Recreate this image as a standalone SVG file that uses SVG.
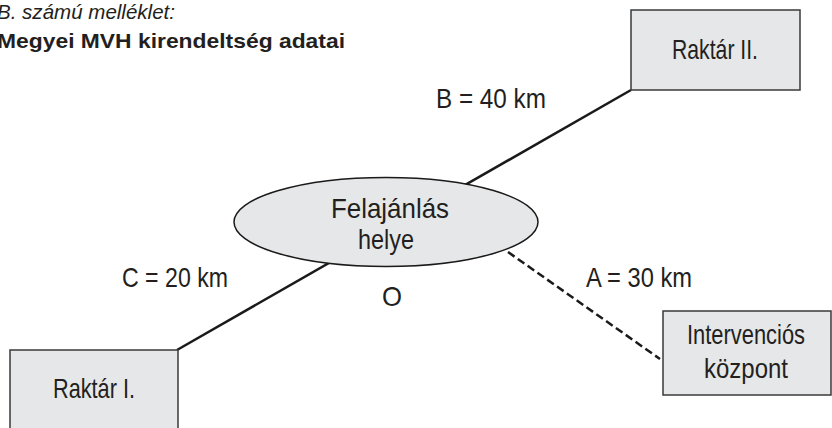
<svg xmlns="http://www.w3.org/2000/svg" width="832" height="428" viewBox="0 0 832 428">
<style>
.box{fill:#e6e7e8;stroke:#3a3a3a;stroke-width:1.5}
.lab{font-family:"Liberation Sans","DejaVu Sans",sans-serif;font-size:28px;fill:#231f20}
.ln{stroke:#1a1a1a;stroke-width:2.5;fill:none}
.dash{stroke:#1a1a1a;stroke-width:2.5;fill:none;stroke-dasharray:8 4}
</style>
<rect width="832" height="428" fill="#ffffff"/>
<g id="title">
<text x="-3" y="19" font-family="Liberation Sans, sans-serif" font-style="italic" font-size="21" fill="#231f20" textLength="178" lengthAdjust="spacingAndGlyphs">B. számú melléklet:</text>
<text x="-3" y="48" font-family="Liberation Sans, sans-serif" font-weight="bold" font-size="21" fill="#231f20" textLength="348" lengthAdjust="spacingAndGlyphs">Megyei MVH kirendeltség adatai</text>
</g>
<g id="connectors">
<line class="ln" x1="631" y1="90" x2="177" y2="350"/>
<line class="dash" x1="508" y1="252" x2="660" y2="359"/>
</g>
<g id="raktar2">
<rect class="box" x="631" y="10" width="169" height="80"/>
<text class="lab" x="715" y="59" text-anchor="middle" textLength="86" lengthAdjust="spacingAndGlyphs">Raktár II.</text>
</g>
<g id="felajanlas">
<ellipse cx="386" cy="222" rx="152" ry="44.5" fill="#e6e7e8" stroke="#1a1a1a" stroke-width="1.5"/>
<text class="lab" x="390" y="218" text-anchor="middle" textLength="118" lengthAdjust="spacingAndGlyphs">Felajánlás</text>
<text class="lab" x="386" y="249" text-anchor="middle" textLength="56" lengthAdjust="spacingAndGlyphs">helye</text>
</g>
<g id="raktar1">
<rect class="box" x="10" y="350" width="168" height="90"/>
<text class="lab" x="94" y="398" text-anchor="middle" textLength="82" lengthAdjust="spacingAndGlyphs">Raktár I.</text>
</g>
<g id="intervencios">
<rect class="box" x="663" y="311" width="168" height="84"/>
<text class="lab" x="746" y="344" text-anchor="middle" textLength="118" lengthAdjust="spacingAndGlyphs">Intervenciós</text>
<text class="lab" x="746" y="378" text-anchor="middle" textLength="84" lengthAdjust="spacingAndGlyphs">központ</text>
</g>
<g id="labels">
<text class="lab" x="436" y="108" textLength="110" lengthAdjust="spacingAndGlyphs">B = 40 km</text>
<text class="lab" x="122" y="287" textLength="106" lengthAdjust="spacingAndGlyphs">C = 20 km</text>
<text class="lab" x="586" y="287" textLength="106" lengthAdjust="spacingAndGlyphs">A = 30 km</text>
<text class="lab" x="382" y="306" textLength="20" lengthAdjust="spacingAndGlyphs">O</text>
</g>
</svg>
